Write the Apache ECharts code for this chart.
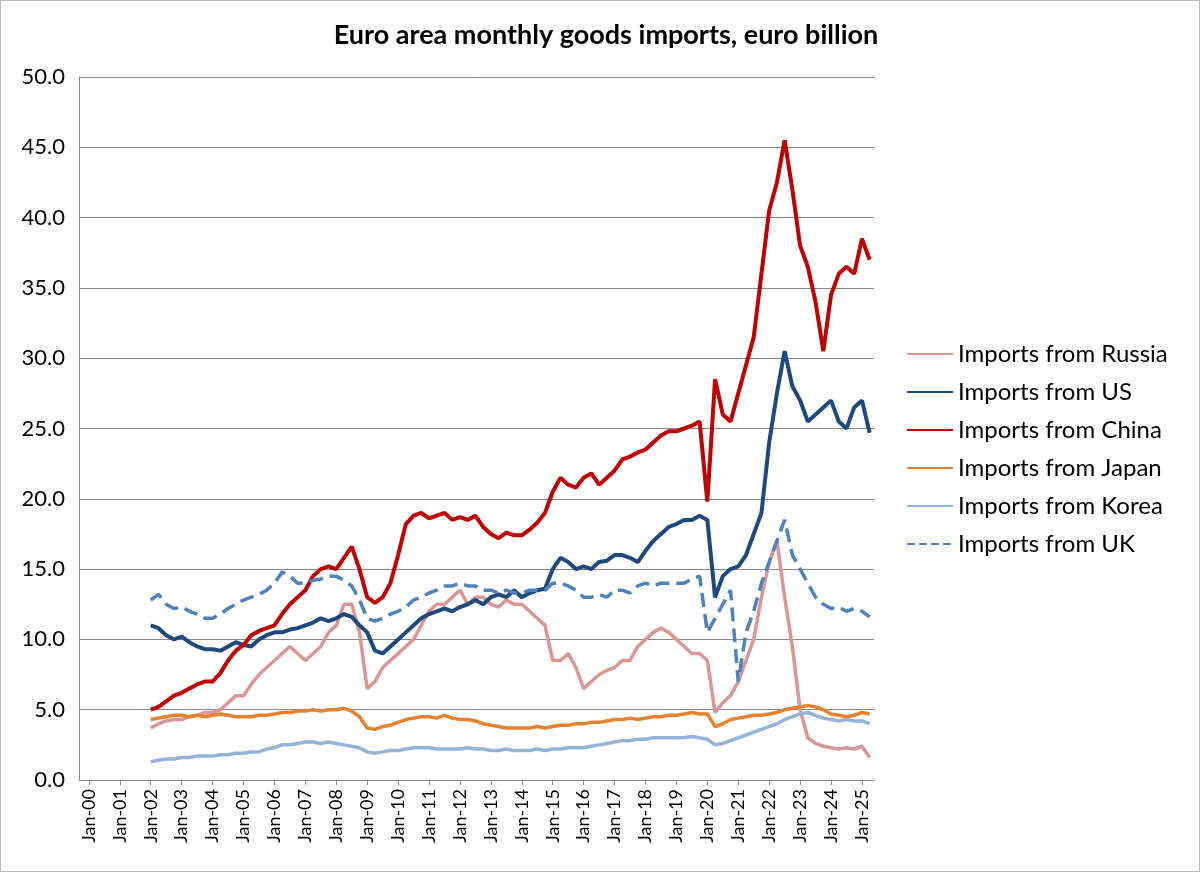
<!DOCTYPE html>
<html>
<head>
<meta charset="utf-8">
<script src="https://cdn.jsdelivr.net/npm/echarts@6/dist/echarts.min.js"></script>
<style>
  html, body { margin: 0; padding: 0; background: #fff; }
  #chart { width: 1200px; height: 872px; box-sizing: border-box; border: 1px solid #bbb; }
</style>
</head>
<body>
<div id="chart"></div>
<script>
// quarterly readings, first point Jan-02, step 0.25 year
let startYear = 2002;
let yearTicks = [2000, 2001, 2002, 2003, 2004, 2005, 2006, 2007, 2008, 2009, 2010, 2011, 2012,
  2013, 2014, 2015, 2016, 2017, 2018, 2019, 2020, 2021, 2022, 2023, 2024, 2025];

let russia = [3.7,4.0,4.2,4.3, 4.3,4.5,4.6,4.8, 4.8,5.0,5.5,6.0, 6.0,6.8,7.5,8.0, 8.5,9.0,9.5,9.0,
  8.5,9.0,9.5,10.5, 11.0,12.5,12.5,10.5, 6.5,7.0,8.0,8.5, 9.0,9.5,10.0,11.0, 12.0,12.5,12.5,13.0,
  13.5,12.5,13.0,13.0, 12.5,12.3,12.8,12.5, 12.5,12.0,11.5,11.0, 8.5,8.5,9.0,8.0, 6.5,7.0,7.5,7.8,
  8.0,8.5,8.5,9.5, 10.0,10.5,10.8,10.5, 10.0,9.5,9.0,9.0, 8.5,4.8,5.5,6.0, 7.0,8.5,10.0,13.0,
  15.5,17.0,13.0,9.5, 5.0,3.0,2.6,2.4, 2.3,2.2,2.3,2.2, 2.4,1.6];
let us = [11.0,10.8,10.3,10.0, 10.2,9.8,9.5,9.3, 9.3,9.2,9.5,9.8, 9.6,9.5,10.0,10.3, 10.5,10.5,10.7,10.8,
  11.0,11.2,11.5,11.3, 11.5,11.8,11.6,11.0, 10.5,9.2,9.0,9.5, 10.0,10.5,11.0,11.5, 11.8,12.0,12.2,12.0,
  12.3,12.5,12.8,12.5, 13.0,13.2,13.0,13.5, 13.0,13.3,13.5,13.6, 15.0,15.8,15.5,15.0, 15.2,15.0,15.5,15.6,
  16.0,16.0,15.8,15.5, 16.3,17.0,17.5,18.0, 18.2,18.5,18.5,18.8, 18.5,13.0,14.5,15.0, 15.2,16.0,17.5,19.0,
  24.0,27.5,30.5,28.0, 27.0,25.5,26.0,26.5, 27.0,25.5,25.0,26.5, 27.0,24.7];
let china = [5.0,5.2,5.6,6.0, 6.2,6.5,6.8,7.0, 7.0,7.6,8.5,9.2, 9.6,10.3,10.6,10.8, 11.0,11.8,12.5,13.0,
  13.5,14.5,15.0,15.2, 15.0,15.8,16.6,15.0, 13.0,12.6,13.0,14.0, 16.0,18.2,18.8,19.0, 18.6,18.8,19.0,18.5,
  18.7,18.5,18.8,18.0, 17.5,17.2,17.6,17.4, 17.4,17.8,18.3,19.0, 20.5,21.5,21.0,20.8, 21.5,21.8,21.0,21.5,
  22.0,22.8,23.0,23.3, 23.5,24.0,24.5,24.8, 24.8,25.0,25.2,25.5, 19.8,28.5,26.0,25.5, 27.5,29.5,31.5,36.0,
  40.5,42.5,45.5,42.0, 38.0,36.5,34.0,30.5, 34.5,36.0,36.5,36.0, 38.5,37.0];
let japan = [4.3,4.4,4.5,4.6, 4.6,4.5,4.6,4.5, 4.6,4.7,4.6,4.5, 4.5,4.5,4.6,4.6, 4.7,4.8,4.8,4.9,
  4.9,5.0,4.9,5.0, 5.0,5.1,4.9,4.5, 3.7,3.6,3.8,3.9, 4.1,4.3,4.4,4.5, 4.5,4.4,4.6,4.4,
  4.3,4.3,4.2,4.0, 3.9,3.8,3.7,3.7, 3.7,3.7,3.8,3.7, 3.8,3.9,3.9,4.0, 4.0,4.1,4.1,4.2,
  4.3,4.3,4.4,4.3, 4.4,4.5,4.5,4.6, 4.6,4.7,4.8,4.7, 4.7,3.8,4.0,4.3, 4.4,4.5,4.6,4.6,
  4.7,4.8,5.0,5.1, 5.2,5.3,5.2,5.0, 4.7,4.6,4.5,4.6, 4.8,4.7];
let korea = [1.3,1.4,1.5,1.5, 1.6,1.6,1.7,1.7, 1.7,1.8,1.8,1.9, 1.9,2.0,2.0,2.2, 2.3,2.5,2.5,2.6,
  2.7,2.7,2.6,2.7, 2.6,2.5,2.4,2.3, 2.0,1.9,2.0,2.1, 2.1,2.2,2.3,2.3, 2.3,2.2,2.2,2.2,
  2.2,2.3,2.2,2.2, 2.1,2.1,2.2,2.1, 2.1,2.1,2.2,2.1, 2.2,2.2,2.3,2.3, 2.3,2.4,2.5,2.6,
  2.7,2.8,2.8,2.9, 2.9,3.0,3.0,3.0, 3.0,3.0,3.1,3.0, 2.9,2.5,2.6,2.8, 3.0,3.2,3.4,3.6,
  3.8,4.0,4.3,4.5, 4.7,4.8,4.6,4.4, 4.3,4.2,4.3,4.2, 4.2,4.0];
let uk = [12.8,13.2,12.5,12.2, 12.3,12.0,11.8,11.5, 11.5,11.8,12.2,12.5, 12.8,13.0,13.2,13.5, 14.0,14.8,14.5,14.0,
  14.0,14.2,14.3,14.5, 14.5,14.2,13.8,12.8, 11.5,11.3,11.5,11.8, 12.0,12.3,12.8,13.0, 13.3,13.5,13.8,13.8,
  14.0,13.8,13.8,13.5, 13.5,13.3,13.5,13.3, 13.3,13.5,13.5,13.5, 14.0,14.0,13.8,13.5, 13.0,13.0,13.2,13.0,
  13.5,13.5,13.3,13.8, 14.0,13.8,14.0,14.0, 14.0,14.0,14.3,14.5, 10.5,11.5,12.5,13.5, 7.0,10.5,12.0,14.0,
  15.5,17.0,18.5,16.0, 15.0,14.0,13.0,12.5, 12.2,12.3,12.0,12.2, 12.0,11.6];

let font = "Lato, 'Liberation Sans', sans-serif";

function toPairs(values) {
  return values.map((v, i) => [startYear + i / 4, v]);
}

function makeSeries(name, values, color, width, dashed) {
  return {
    name: name,
    type: "line",
    data: toPairs(values),
    showSymbol: false,
    symbol: "none",
    color: color,
    lineStyle: { color: color, width: width, type: dashed ? "dashed" : "solid" },
    animation: false
  };
}

var myChart = echarts.init(document.getElementById("chart"));
myChart.setOption({
  backgroundColor: "#fff",
  title: {
    text: "Euro area monthly goods imports, euro billion",
    left: 600,
    textAlign: "center",
    top: 16,
    textStyle: { fontFamily: font, fontSize: 27, fontWeight: "bold", color: "#000" }
  },
  grid: { left: 78, right: 325, top: 76, bottom: 91 },
  xAxis: {
    type: "value",
    min: 1999.68,
    max: 2025.39,
    axisLine: { show: true, onZero: false, lineStyle: { color: "#888" } },
    axisTick: { show: true, customValues: yearTicks, inside: false, length: 5, lineStyle: { color: "#888" } },
    splitLine: { show: false },
    axisLabel: {
      customValues: yearTicks,
      rotate: 90,
      margin: 9,
      fontFamily: font,
      fontSize: 18,
      color: "#000",
      formatter: v => "Jan-" + String(Math.round(v) % 100).padStart(2, "0")
    }
  },
  yAxis: {
    type: "value",
    min: 0,
    max: 50,
    interval: 5,
    axisLine: { show: true, lineStyle: { color: "#888" } },
    axisTick: { show: false },
    splitLine: { lineStyle: { color: "#888", width: 1 } },
    axisLabel: {
      fontFamily: font,
      fontSize: 22,
      margin: 14,
      color: "#000",
      formatter: v => v.toFixed(1)
    }
  },
  legend: {
    orient: "vertical",
    left: 900,
    top: 336,
    itemGap: 14,
    itemWidth: 46,
    itemHeight: 30,
    itemStyle: { opacity: 0 },
    textStyle: { fontFamily: font, fontSize: 24, color: "#000" },
    data: ["Imports from Russia", "Imports from US", "Imports from China",
      "Imports from Japan", "Imports from Korea", "Imports from UK"]
  },
  series: [
    makeSeries("Imports from Russia", russia, "#D99694", 3.5, false),
    makeSeries("Imports from US", us, "#1F497D", 4, false),
    makeSeries("Imports from China", china, "#C00000", 4, false),
    makeSeries("Imports from Japan", japan, "#E6822E", 3.5, false),
    makeSeries("Imports from Korea", korea, "#95B3D7", 3.5, false),
    makeSeries("Imports from UK", uk, "#4F81BD", 3.5, true)
  ]
});
</script>
</body>
</html>
